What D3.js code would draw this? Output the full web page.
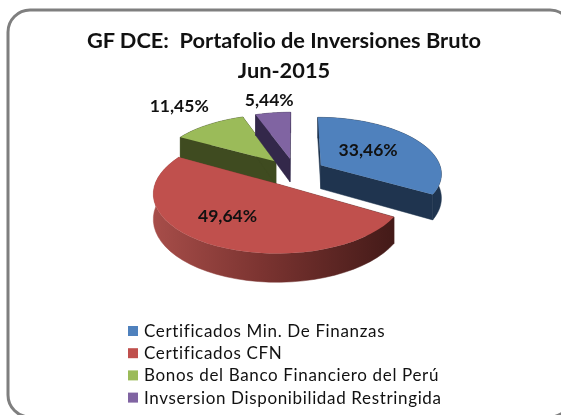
<!DOCTYPE html>
<html>
<head>
<meta charset="utf-8">
<script src="https://cdn.jsdelivr.net/npm/d3@7"></script>
<style>
html, body { margin: 0; padding: 0; background: #fff; overflow: hidden; }
svg { display: block; filter: blur(0.35px); }
text { font-family: Lato, "Open Sans", sans-serif; fill: #111; }
</style>
</head>
<body>
<svg id="chart" width="561" height="415"></svg>
<script>
var categories = ['Certificados Min. De Finanzas', 'Certificados CFN', 'Bonos del Banco Financiero del Perú', 'Invsersion Disponibilidad Restringida'];
var values = [33.46, 49.64, 11.45, 5.44];
var value_labels = ['33,46%', '49,64%', '11,45%', '5,44%'];
var title_lines = ['GF DCE:  Portafolio de Inversiones Bruto', 'Jun-2015'];

var top_colors = ['#4f81bd', '#c0504d', '#9bbb59', '#8064a2'];
var side_colors = ['#1f344f', 'url(#redSide)', '#3f4b20', '#33284a'];
var label_reach = [0.73, 0.9, 1.75, 1.5];
var label_turn = [0, 4, 0, 0];
var draw_order = [2, 3, 0, 1];

var svg = d3.select('#chart');
var cx = 295, cy = 172;
var rx = 121, ry = 56;
var tilt = 0.135;
var explode = 0.25;
var depth = 24;

var x = d3.scaleLinear().domain([-1, 1]).range([cx - rx, cx + rx]);
var y = d3.scaleLinear().domain([-1, 1]).range([cy - ry, cy + ry]);

// plane point -> screen, nearer points get bigger
var project = function(u, v, drop) {
    var s = 1 / (1 - tilt * v);
    return [x(u * s), y(v * s) + (drop ? depth * s : 0)];
};
var polar = function(a, r, off, drop) {
    return project(Math.sin(off) * explode + Math.sin(a) * r, -Math.cos(off) * explode - Math.cos(a) * r, drop);
};

var line_func = d3.line();
var pie = d3.pie().sort(null)(values);

var defs = svg.append('defs');
var grad = defs.append('linearGradient').attr('id', 'redSide')
    .attr('gradientUnits', 'userSpaceOnUse')
    .attr('x1', 150).attr('x2', 395).attr('y1', 0).attr('y2', 0);
grad.append('stop').attr('offset', '0').attr('stop-color', '#a84e4a');
grad.append('stop').attr('offset', '0.45').attr('stop-color', '#7c3431');
grad.append('stop').attr('offset', '1').attr('stop-color', '#431a18');

// frame runs off the right and bottom of the picture
svg.append('rect')
    .attr('x', 8).attr('y', 10)
    .attr('width', 564).attr('height', 407)
    .attr('rx', 22).attr('ry', 22)
    .attr('fill', '#fff')
    .attr('stroke', '#7f7f7f')
    .attr('stroke-width', 3);

svg.selectAll('.title').data(title_lines).enter().append('text')
    .attr('class', 'title')
    .attr('x', 284)
    .attr('y', function(d, i) { return 48 + i * 30; })
    .attr('text-anchor', 'middle')
    .attr('font-size', 21.8)
    .attr('font-weight', 700)
    .style('white-space', 'pre')
    .text(function(d) { return d; });

var draw_slice = function(i) {
    var d = pie[i];
    var mid = (d.startAngle + d.endAngle) / 2;
    var angles = d3.range(0, 41).map(function(k) {
        return d.startAngle + (d.endAngle - d.startAngle) * k / 40;
    });
    var rim = angles.map(function(a) { return polar(a, 1, mid, false); });
    var rim_low = angles.map(function(a) { return polar(a, 1, mid, true); });
    var apex = polar(0, 0, mid, false);
    var apex_low = polar(0, 0, mid, true);
    var g = svg.append('g');
    var walls = [
        rim.concat(rim_low.slice().reverse()),
        [apex, rim[0], rim_low[0], apex_low],
        [apex, rim[40], rim_low[40], apex_low]
    ];
    g.selectAll('path.wall').data(walls).enter().append('path')
        .attr('class', 'wall')
        .attr('d', function(w) { return line_func(w) + 'Z'; })
        .attr('fill', side_colors[i])
        .attr('stroke', side_colors[i])
        .attr('stroke-width', 0.5);
    g.append('path')
        .attr('d', line_func([apex].concat(rim)) + 'Z')
        .attr('fill', top_colors[i]);
};
draw_order.forEach(draw_slice);

svg.selectAll('.value').data(pie).enter().append('text')
    .attr('class', 'value')
    .attr('text-anchor', 'middle')
    .attr('font-size', 17.5)
    .attr('font-weight', 700)
    .attr('transform', function(d, i) {
        var mid = (d.startAngle + d.endAngle) / 2 + label_turn[i] * Math.PI / 180;
        var p = project(Math.sin(mid) * label_reach[i], -Math.cos(mid) * label_reach[i], false);
        return 'translate(' + p[0] + ',' + (p[1] + 3) + ')';
    })
    .text(function(d, i) { return value_labels[i]; });

var legend = svg.selectAll('.legend').data(categories).enter().append('g')
    .attr('class', 'legend')
    .attr('transform', function(d, i) { return 'translate(128,' + (326 + i * 22.2) + ')'; });
legend.append('rect')
    .attr('width', 10).attr('height', 10)
    .attr('fill', function(d, i) { return top_colors[i]; });
legend.append('text')
    .attr('x', 16).attr('y', 11)
    .attr('font-size', 17)
    .attr('letter-spacing', 0.65)
    .text(function(d) { return d; });
</script>
</body>
</html>
